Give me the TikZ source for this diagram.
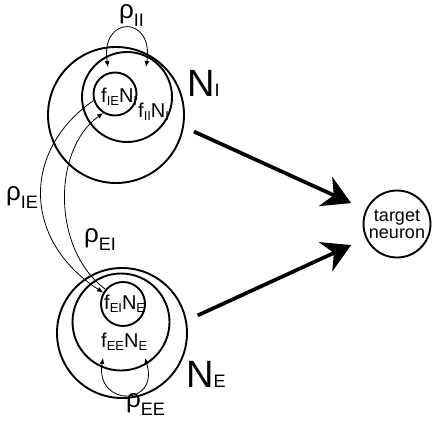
\documentclass[tikz,border=0pt]{standalone}
\usepackage{fontspec}
\setmainfont{Liberation Sans}
\usetikzlibrary{arrows.meta}

\newcommand{\sbf}[1]{\raisebox{-3pt}{\fontsize{13}{13}\selectfont #1}}
\newcommand{\sbr}[1]{\raisebox{-8pt}{\fontsize{18}{18}\selectfont #1}}
\newcommand{\sbn}[1]{{\fontsize{18}{18}\selectfont #1}}

\tikzset{
  pool/.style={draw, circle, line width=1.9pt, inner sep=0pt},
  flbl/.style={anchor=base west, inner sep=0pt, font=\fontsize{20}{20}\selectfont},
  rlbl/.style={anchor=base west, inner sep=0pt, font=\fontsize{26}{26}\selectfont},
  nlbl/.style={anchor=base west, inner sep=0pt, font=\fontsize{38}{38}\selectfont},
  thinarrow/.style={-{Latex[length=6pt,width=5pt]}, line width=0.8pt},
  looparrow/.style={{Latex[length=6pt,width=5pt]}-{Latex[length=6pt,width=5pt]}, line width=0.8pt},
  bigarrow/.style={-{Stealth[length=28pt,width=32pt,inset=9pt]}, line width=3.7pt},
}

\begin{document}
\begin{tikzpicture}[x=1pt,y=-1pt]
    \useasboundingbox (0,0) rectangle (436,420);
    % inhibitory pool
    \node[pool, minimum size=136pt] (nI) at (116,115) {};
    \node[pool, minimum size=90pt] (fII) at (127,97) {};
    \node[pool, minimum size=43pt] (fIE) at (115,94) {};
    % excitatory pool
    \node[pool, minimum size=130pt] (nE) at (122,333) {};
    \node[pool, minimum size=97pt] (fEE) at (121,322) {};
    \node[pool, minimum size=44pt] (fEI) at (123,304) {};
    % target
    \node[pool, minimum size=67pt, align=center, font=\fontsize{18}{18}\selectfont] (tgt) at (397,224) {target\\[-1pt]neuron};

    \node[flbl] (tIE) at (101,102) {f\sbf{IE}N\sbf{I}};
    \node[flbl] (tII) at (138,117) {f\sbf{II}N\sbf{I}};
    \node[flbl] (tEI) at (104,309) {f\sbf{EI}N\sbf{E}};
    \node[flbl] (tEE) at (101,347) {f\sbf{EE}N\sbf{E}};
    \node[nlbl] (tNI) at (187,96) {N\sbn{I}};
    \node[nlbl] (tNE) at (186,387) {N\sbn{E}};
    \node[rlbl] (rII) at (119,19) {ρ\sbr{II}};
    \node[rlbl] (rIE) at (6,200) {ρ\sbr{IE}};
    \node[rlbl] (rEI) at (84,242) {ρ\sbr{EI}};
    \node[rlbl] (rEE) at (126,407) {ρ\sbr{EE}};

    % self loops
    \coordinate (iiL) at (108,67);
    \coordinate (iiR) at (146,67);
    \coordinate (eeL) at (103,358);
    \coordinate (eeR) at (145,358);
    \draw[looparrow] (iiL) .. controls +(-8,-52) and +(8,-52) .. (iiR);
    \draw[looparrow] (eeL) .. controls +(-8,49) and +(15,49) .. (eeR);

    % cross projections
    \draw[thinarrow] (fIE.197) .. controls (22,150) and (22,240) .. (fEI.150);
    \draw[thinarrow] (fEI.140) .. controls (52,250) and (52,150) .. (fIE.238);

    % output
    \draw[bigarrow, shorten <=11pt, shorten >=16pt] (nI.-10) -- (tgt);
    \draw[bigarrow, shorten <=12pt, shorten >=16pt] (nE.11) -- (tgt);
\end{tikzpicture}
\end{document}
